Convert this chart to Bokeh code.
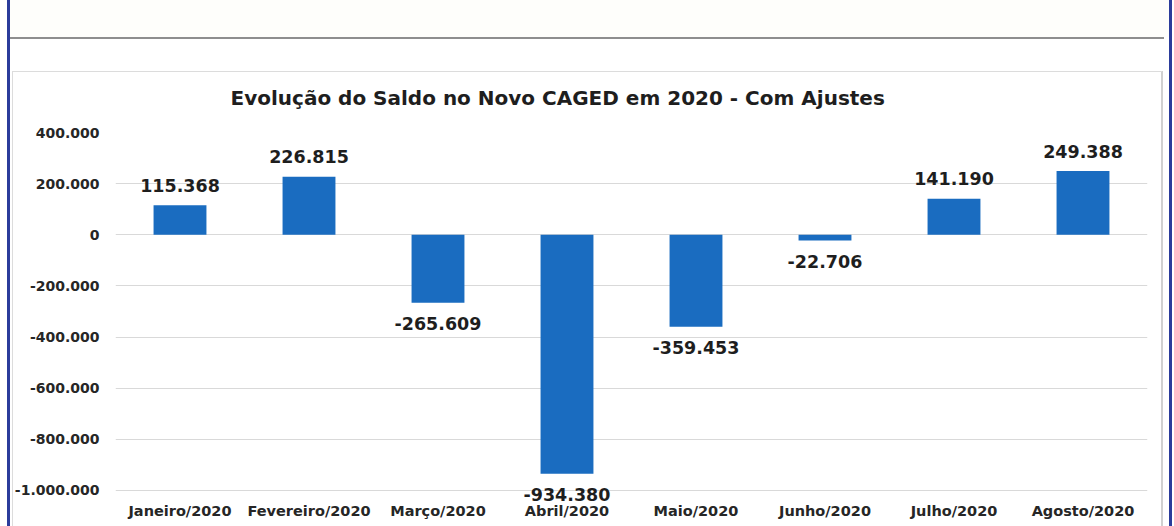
from bokeh.plotting import figure
from bokeh.models import ColumnDataSource, FactorRange, Range1d, FixedTicker, LabelSet
from bokeh.core.properties import value
from bokeh.embed import file_html
from bokeh.resources import INLINE

categories = ["Janeiro/2020", "Fevereiro/2020", "Março/2020", "Abril/2020",
              "Maio/2020", "Junho/2020", "Julho/2020", "Agosto/2020"]
saldo = [115368, 226815, -265609, -934380, -359453, -22706, 141190, 249388]
tick_values = [400000, 200000, 0, -200000, -400000, -600000, -800000, -1000000]
tick_labels = ["400.000", "200.000", "0", "-200.000", "-400.000", "-600.000",
               "-800.000", "-1.000.000"]
title_text = "Evolução do Saldo no Novo CAGED em 2020 - Com Ajustes"


def fmt(v):
    s = f"{abs(v):,}".replace(",", ".")
    return ("-" if v < 0 else "") + s


FONT = "DejaVu Sans"
W, H = 1174, 526

src = ColumnDataSource(dict(
    cat=categories,
    val=saldo,
    lab=[fmt(v) for v in saldo],
    dy=[20 if v >= 0 else -21 for v in saldo],
))

p = figure(width=W, height=H, output_backend="svg", toolbar_location=None,
           x_range=FactorRange(*categories, range_padding=0),
           y_range=Range1d(-1055000, 400000),
           min_border_left=115, min_border_right=27,
           min_border_top=132, min_border_bottom=22,
           background_fill_color="white", border_fill_color=None)

p.vbar(x="cat", top="val", width=0.41, source=src, color="#1a6cc0",
       line_color=None)

labels = LabelSet(x="cat", y="val", text="lab", y_offset="dy", source=src,
                  text_align="center", text_baseline="middle",
                  text_font=value(FONT), text_font_style="bold",
                  text_font_size="17.5px", text_color="#1e1e1e")
p.add_layout(labels)

# title
p.title.text = title_text
p.title.align = "left"
p.title.offset = 115
p.title.text_font = FONT
p.title.text_font_style = "bold"
p.title.text_font_size = "20px"
p.title.text_color = "#1e1e1e"
p.title.standoff = 45

# axes
p.yaxis.ticker = FixedTicker(ticks=tick_values)
p.yaxis.major_label_overrides = {v: l for v, l in zip(tick_values, tick_labels)}
p.yaxis.axis_line_color = None
p.yaxis.major_tick_line_color = None
p.yaxis.minor_tick_line_color = None
p.yaxis.major_label_standoff = 10
p.yaxis.major_label_text_font = FONT
p.yaxis.major_label_text_font_style = "bold"
p.yaxis.major_label_text_font_size = "14px"
p.yaxis.major_label_text_color = "#262626"

p.xaxis.axis_line_color = None
p.xaxis.major_tick_line_color = None
p.xaxis.major_label_standoff = -8
p.xaxis.major_label_text_font = FONT
p.xaxis.major_label_text_font_style = "bold"
p.xaxis.major_label_text_font_size = "14.5px"
p.xaxis.major_label_text_color = "#262626"

p.xgrid.grid_line_color = None
p.ygrid.grid_line_color = "#d9d9d9"
p.ygrid.grid_line_width = 1
p.outline_line_color = None

# page frame drawn behind the transparent canvas border
layers = [
    ("#2b3c9b", "3px 100%", "7px 0px"),        # left blue border
    ("#2b3c9b", "3px 100%", "1169px 0px"),     # right blue border
    ("#8e8e8e", "1155px 2px", "9px 37px"),     # header rule
    ("#dcdcdc", "1150px 1px", "12px 71px"),    # chart box top
    ("#dcdcdc", "1px 100%", "12px 71px"),      # chart box left
    ("#d0d0d0", "2px 100%", "1161px 71px"),    # chart box right
    ("#fefefb", "1160px 37px", "9px 0px"),     # header tint
]
p.styles = {
    "background-color": "white",
    "background-image": ", ".join(f"linear-gradient({c}, {c})" for c, _, _ in layers),
    "background-size": ", ".join(s for _, s, _ in layers),
    "background-position": ", ".join(pos for _, _, pos in layers),
    "background-repeat": "no-repeat",
}

open("out.html", "w").write(file_html(p, INLINE))
